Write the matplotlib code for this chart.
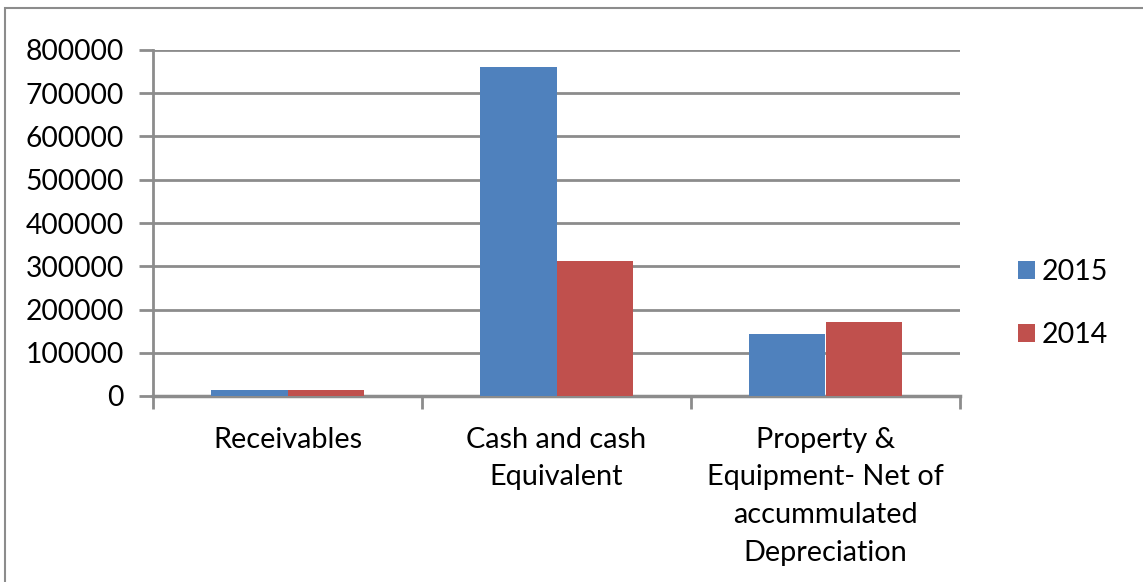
import matplotlib
matplotlib.use("Agg")
import matplotlib.pyplot as plt
import numpy as np
from matplotlib.patches import Rectangle

categories = ["Receivables", "Cash and cash\nEquivalent",
              "Property &\nEquipment- Net of\naccummulated\nDepreciation"]
series_names = ["2015", "2014"]
values_2015 = [13000, 761000, 144000]
values_2014 = [13000, 313000, 172000]
colors = ["#4F81BD", "#C0504D"]
yticks = [0, 100000, 200000, 300000, 400000, 500000, 600000, 700000, 800000]

plt.rcParams['font.family'] = ['Lato', 'DejaVu Sans']

W, H = 1143, 582
fig = plt.figure(figsize=(W / 100, H / 100), dpi=100)
ax = fig.add_axes([153 / W, 1 - 396 / H, (960 - 153) / W, (396 - 50) / H])

# outer chart border
fig.patches.append(Rectangle((5 / W, -0.01), 1.02, 1 - 8 / H + 0.01, transform=fig.transFigure,
                             fill=False, edgecolor="#8c8c8c", linewidth=1.5, clip_on=False))

x = np.arange(len(categories))
w = 1 / 3.5
ax.bar(x - w / 2, values_2015, width=w, color=colors[0], label=series_names[0], zorder=3)
ax.bar(x + w / 2, values_2014, width=w, color=colors[1], label=series_names[1], zorder=3)

ax.set_xlim(-0.5, len(categories) - 0.5)
ax.set_ylim(0, 800000)
ax.set_yticks(yticks)
ax.set_yticklabels([str(v) for v in yticks], fontsize=20.3)
ax.yaxis.grid(True, color="#8c8c8c", linewidth=2, zorder=0)
ax.set_axisbelow(True)

ax.set_xticks(np.arange(len(categories) + 1) - 0.5, minor=False)
ax.set_xticklabels([])
ax.set_xticks(x, minor=True)
ax.set_xticklabels(categories, minor=True, fontsize=20.8, linespacing=1.56, va="top")
ax.tick_params(axis="x", which="minor", length=0, pad=22)
ax.tick_params(axis="x", which="major", length=9, width=2, color="#8c8c8c", direction="out")
ax.tick_params(axis="y", length=10, width=2, color="#8c8c8c", direction="out", pad=11)

for s in ["top", "right"]:
    ax.spines[s].set_visible(False)
ax.spines["left"].set_color("#8c8c8c")
ax.spines["left"].set_linewidth(2)
ax.spines["bottom"].set_color("#8c8c8c")
ax.spines["bottom"].set_linewidth(2.5)

leg = fig.legend(loc="upper left", bbox_to_anchor=(992 / W, 1 - 233 / H), frameon=False,
                 fontsize=20.5, handlelength=0.6, handleheight=0.6, handletextpad=0.25,
                 labelspacing=1.3)

fig.savefig("out.png", dpi=100)
